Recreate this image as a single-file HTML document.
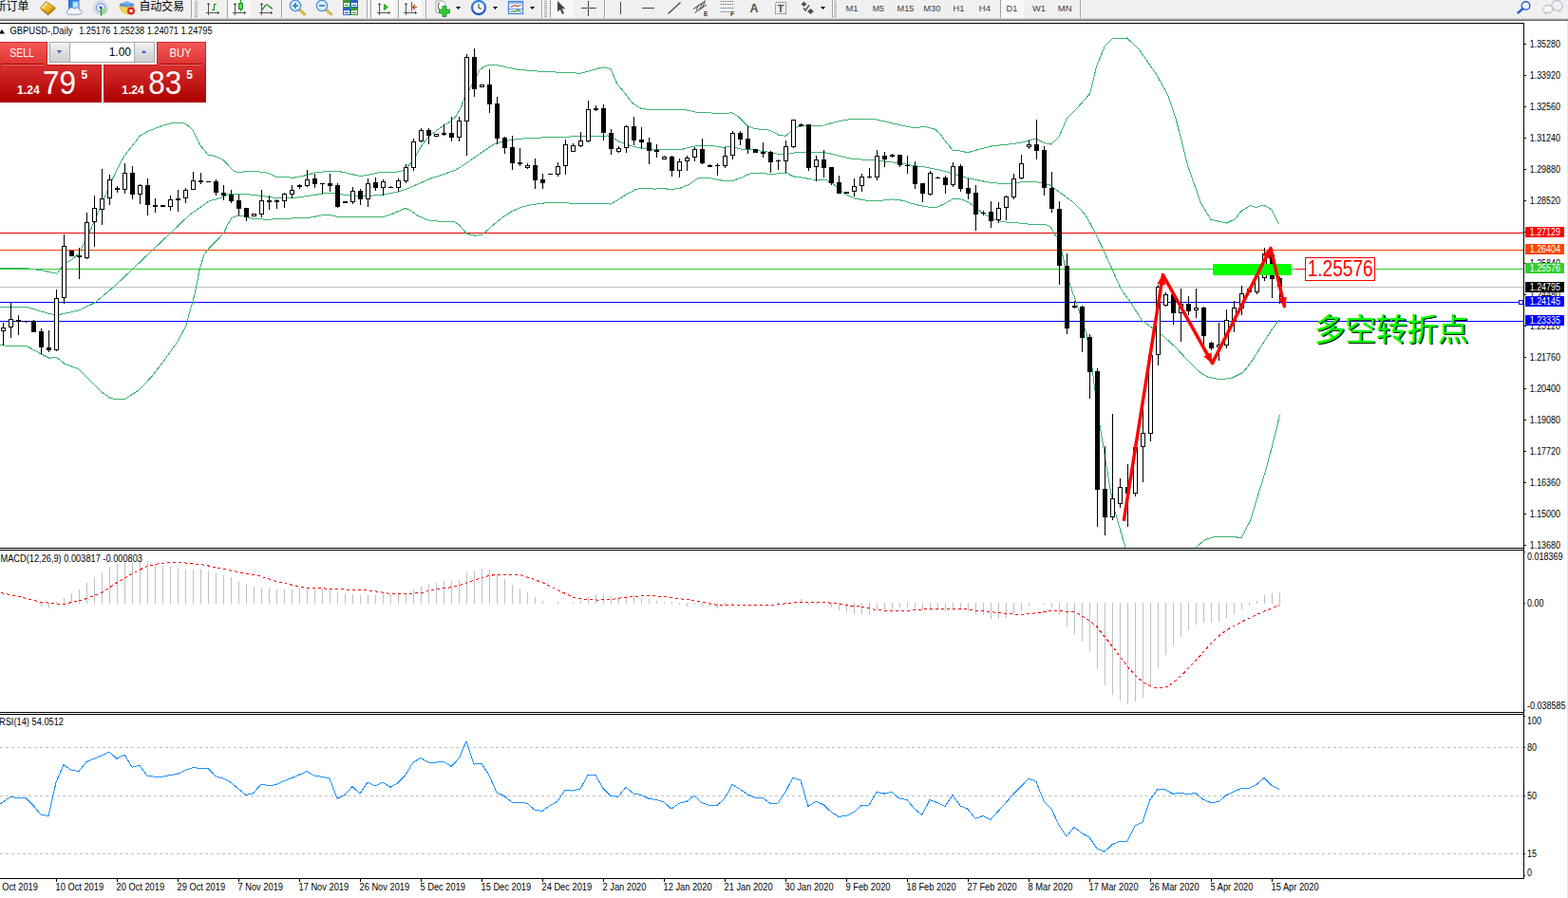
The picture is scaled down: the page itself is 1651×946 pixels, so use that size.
<!DOCTYPE html>
<html><head><meta charset="utf-8"><title>GBPUSD Daily</title>
<style>html,body{margin:0;padding:0;background:#fff;overflow:hidden}body{width:1651px;height:946px;font-family:"Liberation Sans",sans-serif}svg{position:absolute;left:0;top:0}</style>
</head><body>
<svg width="1651" height="946" viewBox="0 0 1651 946" font-family="Liberation Sans, sans-serif" style="display:block">
<defs><linearGradient id="gTab" x1="0" y1="0" x2="0" y2="1"><stop offset="0" stop-color="#f65a58"/><stop offset="1" stop-color="#dc3232"/></linearGradient><linearGradient id="gBig" x1="0" y1="0" x2="0" y2="1"><stop offset="0" stop-color="#d93030"/><stop offset="1" stop-color="#ac0000"/></linearGradient><linearGradient id="gBtn" x1="0" y1="0" x2="0" y2="1"><stop offset="0" stop-color="#f4f4f4"/><stop offset="0.5" stop-color="#dedede"/><stop offset="1" stop-color="#cfcfcf"/></linearGradient><clipPath id="cMain"><rect x="0" y="25" width="1604" height="552"/></clipPath><clipPath id="cMacd"><rect x="0" y="580" width="1604" height="170"/></clipPath></defs>
<rect x="0" y="0" width="1651" height="946" fill="#fff" />
<g shape-rendering="crispEdges">
<rect x="0" y="245" width="1604" height="1" fill="#ff0000" />
<rect x="0" y="263" width="1604" height="1" fill="#ff4500" />
<rect x="0" y="283" width="1604" height="1" fill="#32cd32" />
<rect x="0" y="302" width="1604" height="1" fill="#c0c0c0" />
<rect x="0" y="318" width="1604" height="1" fill="#0000ff" />
<rect x="0" y="338" width="1604" height="1" fill="#0000ff" />
</g>
<g clip-path="url(#cMain)" shape-rendering="crispEdges">
<polyline points="0.0,282.5 30.0,282.8 45.0,285.0 60.0,288.3 67.0,278.0 75.0,274.0 83.0,267.0 91.0,251.5 99.0,233.8 104.0,222.0 110.1,208.2 117.8,190.2 124.0,176.8 130.7,164.4 138.4,154.6 147.7,142.8 155.9,138.2 164.1,135.1 173.4,131.5 182.7,129.4 190.9,129.1 195.5,130.4 203.3,137.1 210.5,152.6 219.2,163.2 226.9,164.4 235.2,168.5 240.0,173.6 246.0,180.2 252.0,182.0 258.0,180.6 270.0,180.6 283.0,182.3 291.0,186.7 310.0,187.1 318.0,185.7 331.0,182.0 345.0,180.4 357.0,180.4 365.0,182.3 379.0,185.5 387.0,184.5 400.0,181.6 421.0,180.9 427.0,178.0 435.0,169.2 443.0,154.7 451.0,144.5 459.0,138.0 467.0,132.2 472.0,129.5 480.0,122.6 485.0,114.4 489.0,102.8 495.0,93.0 500.0,84.2 504.0,74.9 510.0,69.8 515.0,68.4 525.0,69.0 545.0,73.3 570.0,75.3 600.0,76.7 611.0,77.2 620.0,74.9 630.0,72.1 637.0,70.9 643.0,72.6 650.0,88.8 658.0,98.1 666.0,108.6 675.0,114.4 685.0,115.6 704.0,115.6 720.0,115.3 735.0,118.6 760.0,119.3 771.0,118.9 778.0,123.3 787.0,132.7 795.0,135.6 810.0,137.1 820.0,142.2 827.0,143.3 832.0,139.2 840.0,133.4 850.0,132.3 868.0,132.0 880.0,128.3 895.0,125.7 920.0,125.4 930.0,127.6 945.0,131.1 960.0,134.3 975.0,133.8 985.0,136.4 990.0,141.2 995.0,148.3 1003.0,158.1 1010.0,158.9 1019.0,160.7 1030.0,157.6 1045.0,153.6 1060.0,152.3 1075.0,150.4 1085.0,147.5 1091.0,146.2 1099.3,150.5 1107.0,152.1 1115.1,144.0 1123.7,124.2 1135.3,112.6 1147.7,98.6 1154.7,69.5 1163.3,48.6 1171.4,40.9 1186.5,40.0 1199.3,52.1 1217.9,78.8 1229.5,99.8 1238.8,127.7 1250.5,174.2 1264.4,213.7 1274.9,231.2 1291.2,235.1 1300.5,230.7 1307.4,221.9 1316.7,216.7 1322.6,218.4 1330.7,216.0 1338.8,220.7 1346.5,236.3" fill="none" stroke="#3cb371" stroke-width="1" />
<polyline points="0.0,323.4 30.0,324.0 50.0,330.0 60.0,332.0 83.0,327.0 100.0,318.8 120.0,302.0 140.0,283.0 160.0,264.0 180.0,245.0 200.0,226.0 220.0,212.0 232.0,208.5 240.0,204.9 250.0,204.1 262.0,204.9 275.0,206.3 290.0,208.5 300.0,209.2 315.0,207.8 330.0,205.6 345.0,203.1 352.0,203.1 360.0,204.9 372.0,206.0 390.0,206.3 405.0,204.9 420.0,201.7 430.0,198.3 445.0,191.8 455.0,187.4 464.0,184.7 480.0,179.0 490.0,172.6 500.0,165.6 510.0,158.6 520.0,152.1 530.0,148.8 545.0,146.5 560.0,145.3 580.0,144.7 600.0,144.0 620.0,143.5 640.0,143.0 645.0,144.7 651.0,148.8 660.0,152.3 670.0,155.1 685.0,157.0 704.0,157.4 718.0,157.4 730.0,154.2 740.0,153.0 750.0,153.4 760.0,155.2 770.0,154.5 780.0,157.1 795.0,158.1 810.0,160.3 820.0,162.5 830.0,162.2 840.0,160.3 850.0,160.0 870.0,161.0 880.0,163.2 895.0,166.9 910.0,168.3 925.0,168.8 936.0,170.6 945.0,171.3 960.0,174.2 975.0,176.1 990.0,179.2 1003.0,182.7 1015.0,186.6 1027.0,189.3 1040.0,191.9 1055.0,193.5 1065.0,193.5 1075.0,191.9 1090.0,191.3 1105.1,194.7 1113.3,200.9 1129.5,212.6 1140.0,223.0 1145.1,230.0 1153.2,245.5 1162.2,264.1 1170.3,282.2 1180.3,304.3 1190.3,318.4 1202.4,337.5 1214.4,346.5 1224.5,353.5 1238.5,366.6 1250.6,379.6 1263.5,392.2 1272.0,397.3 1285.4,399.8 1297.3,398.1 1309.1,392.2 1319.3,378.7 1327.7,365.2 1336.2,351.6 1346.3,337.3" fill="none" stroke="#3cb371" stroke-width="1" />
<polyline points="0.0,363.3 8.0,364.4 28.0,364.6 42.6,372.6 52.0,377.3 59.3,376.2 68.0,383.3 82.6,388.6 93.3,399.3 106.6,412.6 115.9,419.3 121.3,420.6 131.9,420.3 146.6,410.6 159.9,396.6 173.2,379.3 186.5,360.6 195.9,343.3 200.0,327.7 205.0,310.0 210.0,284.5 215.0,268.0 220.0,261.7 230.0,251.5 236.0,244.8 240.0,236.1 244.0,229.6 250.0,227.1 255.0,227.4 265.0,230.0 280.0,231.3 300.0,230.3 325.0,229.3 340.0,226.7 348.0,226.4 356.0,228.4 375.0,228.6 405.0,228.1 415.0,224.5 427.0,219.4 432.0,221.3 440.0,227.4 450.0,231.8 465.0,233.5 478.0,233.5 483.0,236.5 488.0,242.3 492.0,246.5 500.0,248.1 507.0,247.7 512.0,243.5 520.0,236.5 530.0,228.4 540.0,222.1 550.0,217.9 560.0,215.6 575.0,213.7 590.0,213.5 605.0,214.4 640.0,214.9 643.0,215.1 650.0,210.9 660.0,204.4 670.0,199.3 680.0,198.1 690.0,199.3 696.0,198.1 705.0,199.6 715.0,198.6 725.0,194.5 735.0,187.9 745.0,187.2 760.0,190.1 772.0,190.4 782.0,186.5 790.0,182.9 800.0,182.1 812.0,183.6 828.0,182.1 835.0,185.8 845.0,187.2 855.0,189.0 870.0,189.4 880.0,195.9 890.0,204.7 900.0,209.0 912.0,211.2 925.0,211.6 940.0,209.9 950.0,211.2 965.0,215.7 975.0,217.8 985.0,218.9 995.0,214.4 1003.0,209.6 1010.0,209.1 1020.0,213.1 1027.0,218.4 1035.0,225.0 1045.0,230.2 1055.0,233.7 1070.0,234.7 1085.0,236.3 1100.5,236.3 1106.3,239.3 1110.9,247.4 1113.0,250.0 1117.0,260.6 1120.0,273.8 1124.0,292.3 1128.0,304.2 1131.0,312.3 1136.0,326.4 1144.0,352.5 1150.2,388.7 1152.8,410.8 1158.0,448.0 1163.0,478.4 1170.0,520.5 1174.0,538.6 1184.7,575.8 1185.5,578.0" fill="none" stroke="#3cb371" stroke-width="1" />
<polyline points="1258.5,578.0 1258.8,577.0 1267.9,569.1 1280.1,565.1 1295.8,565.3 1307.2,566.5 1316.7,548.2 1323.7,524.7 1332.4,496.7 1341.2,463.6 1347.6,436.9" fill="none" stroke="#3cb371" stroke-width="1" />
</g>
<g shape-rendering="crispEdges">
<rect x="3" y="340" width="1" height="24" fill="#000" />
<rect x="1" y="345" width="5" height="4" fill="#000" />
<rect x="2" y="346" width="3" height="2" fill="#fff" />
<rect x="11" y="319" width="1" height="37" fill="#000" />
<rect x="9" y="336" width="5" height="9" fill="#000" />
<rect x="10" y="337" width="3" height="7" fill="#fff" />
<rect x="19" y="332" width="1" height="21" fill="#000" />
<rect x="17" y="337" width="5" height="2" fill="#000" />
<rect x="27" y="338" width="1" height="2" fill="#000" />
<rect x="25" y="338" width="5" height="1" fill="#000" />
<rect x="35" y="337" width="1" height="13" fill="#000" />
<rect x="33" y="338" width="5" height="12" fill="#000" />
<rect x="43" y="346" width="1" height="27" fill="#000" />
<rect x="41" y="349" width="5" height="17" fill="#000" />
<rect x="51" y="348" width="1" height="23" fill="#000" />
<rect x="49" y="366" width="5" height="3" fill="#000" />
<rect x="59" y="305" width="1" height="65" fill="#000" />
<rect x="57" y="314" width="5" height="55" fill="#000" />
<rect x="58" y="315" width="3" height="53" fill="#fff" />
<rect x="67" y="247" width="1" height="73" fill="#000" />
<rect x="65" y="259" width="5" height="55" fill="#000" />
<rect x="66" y="260" width="3" height="53" fill="#fff" />
<rect x="75" y="264" width="1" height="6" fill="#000" />
<rect x="73" y="264" width="5" height="6" fill="#000" />
<rect x="83" y="261" width="1" height="33" fill="#000" />
<rect x="81" y="269" width="5" height="2" fill="#000" />
<rect x="91" y="224" width="1" height="49" fill="#000" />
<rect x="89" y="234" width="5" height="38" fill="#000" />
<rect x="90" y="235" width="3" height="36" fill="#fff" />
<rect x="99" y="206" width="1" height="54" fill="#000" />
<rect x="97" y="219" width="5" height="15" fill="#000" />
<rect x="98" y="220" width="3" height="13" fill="#fff" />
<rect x="107" y="178" width="1" height="59" fill="#000" />
<rect x="105" y="209" width="5" height="12" fill="#000" />
<rect x="106" y="210" width="3" height="10" fill="#fff" />
<rect x="115" y="184" width="1" height="32" fill="#000" />
<rect x="113" y="189" width="5" height="20" fill="#000" />
<rect x="114" y="190" width="3" height="18" fill="#fff" />
<rect x="123" y="196" width="1" height="7" fill="#000" />
<rect x="121" y="198" width="5" height="2" fill="#000" />
<rect x="131" y="172" width="1" height="32" fill="#000" />
<rect x="129" y="182" width="5" height="18" fill="#000" />
<rect x="130" y="183" width="3" height="16" fill="#fff" />
<rect x="139" y="175" width="1" height="35" fill="#000" />
<rect x="137" y="182" width="5" height="23" fill="#000" />
<rect x="147" y="194" width="1" height="21" fill="#000" />
<rect x="145" y="195" width="5" height="10" fill="#000" />
<rect x="146" y="196" width="3" height="8" fill="#fff" />
<rect x="155" y="188" width="1" height="39" fill="#000" />
<rect x="153" y="195" width="5" height="21" fill="#000" />
<rect x="163" y="209" width="1" height="15" fill="#000" />
<rect x="161" y="216" width="5" height="2" fill="#000" />
<rect x="171" y="216" width="1" height="2" fill="#000" />
<rect x="169" y="216" width="5" height="2" fill="#000" />
<rect x="179" y="206" width="1" height="16" fill="#000" />
<rect x="177" y="210" width="5" height="8" fill="#000" />
<rect x="178" y="211" width="3" height="6" fill="#fff" />
<rect x="187" y="200" width="1" height="23" fill="#000" />
<rect x="185" y="209" width="5" height="2" fill="#000" />
<rect x="195" y="198" width="1" height="16" fill="#000" />
<rect x="193" y="200" width="5" height="9" fill="#000" />
<rect x="194" y="201" width="3" height="7" fill="#fff" />
<rect x="203" y="181" width="1" height="19" fill="#000" />
<rect x="201" y="190" width="5" height="10" fill="#000" />
<rect x="202" y="191" width="3" height="8" fill="#fff" />
<rect x="211" y="182" width="1" height="12" fill="#000" />
<rect x="209" y="190" width="5" height="2" fill="#000" />
<rect x="219" y="191" width="1" height="1" fill="#000" />
<rect x="217" y="191" width="5" height="1" fill="#000" />
<rect x="227" y="189" width="1" height="17" fill="#000" />
<rect x="225" y="191" width="5" height="12" fill="#000" />
<rect x="235" y="195" width="1" height="16" fill="#000" />
<rect x="233" y="203" width="5" height="3" fill="#000" />
<rect x="243" y="200" width="1" height="14" fill="#000" />
<rect x="241" y="205" width="5" height="7" fill="#000" />
<rect x="251" y="205" width="1" height="22" fill="#000" />
<rect x="249" y="211" width="5" height="9" fill="#000" />
<rect x="259" y="219" width="1" height="14" fill="#000" />
<rect x="257" y="219" width="5" height="10" fill="#000" />
<rect x="267" y="225" width="1" height="3" fill="#000" />
<rect x="265" y="225" width="5" height="3" fill="#000" />
<rect x="266" y="226" width="3" height="1" fill="#fff" />
<rect x="275" y="200" width="1" height="29" fill="#000" />
<rect x="273" y="211" width="5" height="15" fill="#000" />
<rect x="274" y="212" width="3" height="13" fill="#fff" />
<rect x="283" y="206" width="1" height="15" fill="#000" />
<rect x="281" y="211" width="5" height="2" fill="#000" />
<rect x="291" y="210" width="1" height="10" fill="#000" />
<rect x="289" y="211" width="5" height="2" fill="#000" />
<rect x="299" y="203" width="1" height="16" fill="#000" />
<rect x="297" y="204" width="5" height="8" fill="#000" />
<rect x="298" y="205" width="3" height="6" fill="#fff" />
<rect x="307" y="195" width="1" height="14" fill="#000" />
<rect x="305" y="200" width="5" height="5" fill="#000" />
<rect x="306" y="201" width="3" height="3" fill="#fff" />
<rect x="315" y="194" width="1" height="5" fill="#000" />
<rect x="313" y="195" width="5" height="2" fill="#000" />
<rect x="323" y="179" width="1" height="18" fill="#000" />
<rect x="321" y="189" width="5" height="7" fill="#000" />
<rect x="322" y="190" width="3" height="5" fill="#fff" />
<rect x="331" y="183" width="1" height="15" fill="#000" />
<rect x="329" y="188" width="5" height="6" fill="#000" />
<rect x="339" y="193" width="1" height="11" fill="#000" />
<rect x="337" y="193" width="5" height="1" fill="#000" />
<rect x="347" y="183" width="1" height="19" fill="#000" />
<rect x="345" y="193" width="5" height="3" fill="#000" />
<rect x="355" y="193" width="1" height="26" fill="#000" />
<rect x="353" y="195" width="5" height="23" fill="#000" />
<rect x="363" y="212" width="1" height="2" fill="#000" />
<rect x="361" y="212" width="5" height="2" fill="#000" />
<rect x="371" y="197" width="1" height="18" fill="#000" />
<rect x="369" y="201" width="5" height="12" fill="#000" />
<rect x="370" y="202" width="3" height="10" fill="#fff" />
<rect x="379" y="199" width="1" height="17" fill="#000" />
<rect x="377" y="201" width="5" height="9" fill="#000" />
<rect x="387" y="188" width="1" height="30" fill="#000" />
<rect x="385" y="193" width="5" height="17" fill="#000" />
<rect x="386" y="194" width="3" height="15" fill="#fff" />
<rect x="395" y="187" width="1" height="14" fill="#000" />
<rect x="393" y="192" width="5" height="6" fill="#000" />
<rect x="403" y="189" width="1" height="17" fill="#000" />
<rect x="401" y="191" width="5" height="7" fill="#000" />
<rect x="402" y="192" width="3" height="5" fill="#fff" />
<rect x="411" y="196" width="1" height="2" fill="#000" />
<rect x="409" y="197" width="5" height="1" fill="#000" />
<rect x="419" y="188" width="1" height="14" fill="#000" />
<rect x="417" y="190" width="5" height="8" fill="#000" />
<rect x="418" y="191" width="3" height="6" fill="#fff" />
<rect x="427" y="173" width="1" height="20" fill="#000" />
<rect x="425" y="176" width="5" height="15" fill="#000" />
<rect x="426" y="177" width="3" height="13" fill="#fff" />
<rect x="435" y="146" width="1" height="34" fill="#000" />
<rect x="433" y="149" width="5" height="28" fill="#000" />
<rect x="434" y="150" width="3" height="26" fill="#fff" />
<rect x="443" y="135" width="1" height="15" fill="#000" />
<rect x="441" y="137" width="5" height="12" fill="#000" />
<rect x="442" y="138" width="3" height="10" fill="#fff" />
<rect x="451" y="135" width="1" height="17" fill="#000" />
<rect x="449" y="137" width="5" height="6" fill="#000" />
<rect x="459" y="141" width="1" height="3" fill="#000" />
<rect x="457" y="141" width="5" height="3" fill="#000" />
<rect x="458" y="142" width="3" height="1" fill="#fff" />
<rect x="467" y="131" width="1" height="12" fill="#000" />
<rect x="465" y="140" width="5" height="2" fill="#000" />
<rect x="475" y="123" width="1" height="26" fill="#000" />
<rect x="473" y="140" width="5" height="5" fill="#000" />
<rect x="483" y="123" width="1" height="26" fill="#000" />
<rect x="481" y="127" width="5" height="18" fill="#000" />
<rect x="482" y="128" width="3" height="16" fill="#fff" />
<rect x="491" y="57" width="1" height="107" fill="#000" />
<rect x="489" y="60" width="5" height="68" fill="#000" />
<rect x="490" y="61" width="3" height="66" fill="#fff" />
<rect x="499" y="51" width="1" height="51" fill="#000" />
<rect x="497" y="60" width="5" height="34" fill="#000" />
<rect x="507" y="89" width="1" height="3" fill="#000" />
<rect x="505" y="89" width="5" height="3" fill="#000" />
<rect x="506" y="90" width="3" height="1" fill="#fff" />
<rect x="515" y="73" width="1" height="46" fill="#000" />
<rect x="513" y="89" width="5" height="21" fill="#000" />
<rect x="523" y="102" width="1" height="50" fill="#000" />
<rect x="521" y="109" width="5" height="37" fill="#000" />
<rect x="531" y="144" width="1" height="18" fill="#000" />
<rect x="529" y="145" width="5" height="11" fill="#000" />
<rect x="539" y="143" width="1" height="36" fill="#000" />
<rect x="537" y="155" width="5" height="17" fill="#000" />
<rect x="547" y="156" width="1" height="19" fill="#000" />
<rect x="545" y="171" width="5" height="2" fill="#000" />
<rect x="555" y="172" width="1" height="6" fill="#000" />
<rect x="553" y="174" width="5" height="3" fill="#000" />
<rect x="554" y="175" width="3" height="1" fill="#fff" />
<rect x="563" y="167" width="1" height="32" fill="#000" />
<rect x="561" y="174" width="5" height="16" fill="#000" />
<rect x="571" y="183" width="1" height="16" fill="#000" />
<rect x="569" y="189" width="5" height="4" fill="#000" />
<rect x="579" y="183" width="1" height="1" fill="#000" />
<rect x="577" y="183" width="5" height="1" fill="#000" />
<rect x="587" y="171" width="1" height="15" fill="#000" />
<rect x="585" y="175" width="5" height="9" fill="#000" />
<rect x="586" y="176" width="3" height="7" fill="#fff" />
<rect x="595" y="147" width="1" height="37" fill="#000" />
<rect x="593" y="152" width="5" height="23" fill="#000" />
<rect x="594" y="153" width="3" height="21" fill="#fff" />
<rect x="603" y="151" width="1" height="9" fill="#000" />
<rect x="601" y="153" width="5" height="7" fill="#000" />
<rect x="602" y="154" width="3" height="5" fill="#fff" />
<rect x="611" y="139" width="1" height="16" fill="#000" />
<rect x="609" y="148" width="5" height="6" fill="#000" />
<rect x="610" y="149" width="3" height="4" fill="#fff" />
<rect x="619" y="106" width="1" height="44" fill="#000" />
<rect x="617" y="115" width="5" height="34" fill="#000" />
<rect x="618" y="116" width="3" height="32" fill="#fff" />
<rect x="627" y="111" width="1" height="6" fill="#000" />
<rect x="625" y="114" width="5" height="2" fill="#000" />
<rect x="635" y="110" width="1" height="38" fill="#000" />
<rect x="633" y="114" width="5" height="26" fill="#000" />
<rect x="643" y="136" width="1" height="27" fill="#000" />
<rect x="641" y="140" width="5" height="17" fill="#000" />
<rect x="651" y="154" width="1" height="7" fill="#000" />
<rect x="649" y="156" width="5" height="4" fill="#000" />
<rect x="650" y="157" width="3" height="2" fill="#fff" />
<rect x="659" y="132" width="1" height="29" fill="#000" />
<rect x="657" y="133" width="5" height="23" fill="#000" />
<rect x="658" y="134" width="3" height="21" fill="#fff" />
<rect x="667" y="123" width="1" height="30" fill="#000" />
<rect x="665" y="133" width="5" height="15" fill="#000" />
<rect x="675" y="134" width="1" height="23" fill="#000" />
<rect x="673" y="147" width="5" height="3" fill="#000" />
<rect x="683" y="145" width="1" height="28" fill="#000" />
<rect x="681" y="150" width="5" height="9" fill="#000" />
<rect x="691" y="152" width="1" height="14" fill="#000" />
<rect x="689" y="158" width="5" height="2" fill="#000" />
<rect x="699" y="164" width="1" height="4" fill="#000" />
<rect x="697" y="165" width="5" height="3" fill="#000" />
<rect x="698" y="166" width="3" height="1" fill="#fff" />
<rect x="707" y="164" width="1" height="22" fill="#000" />
<rect x="705" y="165" width="5" height="15" fill="#000" />
<rect x="715" y="167" width="1" height="20" fill="#000" />
<rect x="713" y="170" width="5" height="10" fill="#000" />
<rect x="714" y="171" width="3" height="8" fill="#fff" />
<rect x="723" y="164" width="1" height="16" fill="#000" />
<rect x="721" y="166" width="5" height="4" fill="#000" />
<rect x="722" y="167" width="3" height="2" fill="#fff" />
<rect x="731" y="155" width="1" height="15" fill="#000" />
<rect x="729" y="157" width="5" height="9" fill="#000" />
<rect x="730" y="158" width="3" height="7" fill="#fff" />
<rect x="739" y="146" width="1" height="27" fill="#000" />
<rect x="737" y="157" width="5" height="15" fill="#000" />
<rect x="747" y="173" width="1" height="3" fill="#000" />
<rect x="745" y="174" width="5" height="2" fill="#000" />
<rect x="755" y="172" width="1" height="13" fill="#000" />
<rect x="753" y="174" width="5" height="1" fill="#000" />
<rect x="763" y="155" width="1" height="22" fill="#000" />
<rect x="761" y="164" width="5" height="11" fill="#000" />
<rect x="762" y="165" width="3" height="9" fill="#fff" />
<rect x="771" y="138" width="1" height="30" fill="#000" />
<rect x="769" y="140" width="5" height="24" fill="#000" />
<rect x="770" y="141" width="3" height="22" fill="#fff" />
<rect x="779" y="138" width="1" height="15" fill="#000" />
<rect x="777" y="140" width="5" height="7" fill="#000" />
<rect x="787" y="133" width="1" height="29" fill="#000" />
<rect x="785" y="146" width="5" height="11" fill="#000" />
<rect x="795" y="157" width="1" height="4" fill="#000" />
<rect x="793" y="157" width="5" height="4" fill="#000" />
<rect x="803" y="150" width="1" height="16" fill="#000" />
<rect x="801" y="160" width="5" height="2" fill="#000" />
<rect x="811" y="159" width="1" height="23" fill="#000" />
<rect x="809" y="160" width="5" height="11" fill="#000" />
<rect x="819" y="168" width="1" height="11" fill="#000" />
<rect x="817" y="169" width="5" height="1" fill="#000" />
<rect x="827" y="148" width="1" height="34" fill="#000" />
<rect x="825" y="154" width="5" height="16" fill="#000" />
<rect x="826" y="155" width="3" height="14" fill="#fff" />
<rect x="835" y="126" width="1" height="30" fill="#000" />
<rect x="833" y="126" width="5" height="29" fill="#000" />
<rect x="834" y="127" width="3" height="27" fill="#fff" />
<rect x="843" y="130" width="1" height="3" fill="#000" />
<rect x="841" y="131" width="5" height="2" fill="#000" />
<rect x="851" y="131" width="1" height="49" fill="#000" />
<rect x="849" y="131" width="5" height="46" fill="#000" />
<rect x="859" y="164" width="1" height="27" fill="#000" />
<rect x="857" y="168" width="5" height="8" fill="#000" />
<rect x="858" y="169" width="3" height="6" fill="#fff" />
<rect x="867" y="158" width="1" height="29" fill="#000" />
<rect x="865" y="168" width="5" height="9" fill="#000" />
<rect x="875" y="176" width="1" height="19" fill="#000" />
<rect x="873" y="176" width="5" height="17" fill="#000" />
<rect x="883" y="185" width="1" height="19" fill="#000" />
<rect x="881" y="192" width="5" height="12" fill="#000" />
<rect x="891" y="202" width="1" height="2" fill="#000" />
<rect x="889" y="202" width="5" height="2" fill="#000" />
<rect x="899" y="188" width="1" height="19" fill="#000" />
<rect x="897" y="196" width="5" height="6" fill="#000" />
<rect x="898" y="197" width="3" height="4" fill="#fff" />
<rect x="907" y="183" width="1" height="19" fill="#000" />
<rect x="905" y="186" width="5" height="10" fill="#000" />
<rect x="906" y="187" width="3" height="8" fill="#fff" />
<rect x="915" y="177" width="1" height="11" fill="#000" />
<rect x="913" y="186" width="5" height="1" fill="#000" />
<rect x="923" y="158" width="1" height="32" fill="#000" />
<rect x="921" y="164" width="5" height="23" fill="#000" />
<rect x="922" y="165" width="3" height="21" fill="#fff" />
<rect x="931" y="160" width="1" height="16" fill="#000" />
<rect x="929" y="164" width="5" height="4" fill="#000" />
<rect x="939" y="162" width="1" height="4" fill="#000" />
<rect x="937" y="163" width="5" height="2" fill="#000" />
<rect x="947" y="163" width="1" height="13" fill="#000" />
<rect x="945" y="163" width="5" height="11" fill="#000" />
<rect x="955" y="164" width="1" height="19" fill="#000" />
<rect x="953" y="174" width="5" height="1" fill="#000" />
<rect x="963" y="170" width="1" height="29" fill="#000" />
<rect x="961" y="175" width="5" height="19" fill="#000" />
<rect x="971" y="193" width="1" height="20" fill="#000" />
<rect x="969" y="193" width="5" height="11" fill="#000" />
<rect x="979" y="180" width="1" height="26" fill="#000" />
<rect x="977" y="182" width="5" height="23" fill="#000" />
<rect x="978" y="183" width="3" height="21" fill="#fff" />
<rect x="987" y="186" width="1" height="2" fill="#000" />
<rect x="985" y="187" width="5" height="1" fill="#000" />
<rect x="995" y="185" width="1" height="19" fill="#000" />
<rect x="993" y="187" width="5" height="8" fill="#000" />
<rect x="1003" y="171" width="1" height="26" fill="#000" />
<rect x="1001" y="175" width="5" height="20" fill="#000" />
<rect x="1002" y="176" width="3" height="18" fill="#fff" />
<rect x="1011" y="173" width="1" height="29" fill="#000" />
<rect x="1009" y="175" width="5" height="24" fill="#000" />
<rect x="1019" y="188" width="1" height="22" fill="#000" />
<rect x="1017" y="198" width="5" height="6" fill="#000" />
<rect x="1027" y="195" width="1" height="48" fill="#000" />
<rect x="1025" y="203" width="5" height="23" fill="#000" />
<rect x="1035" y="222" width="1" height="5" fill="#000" />
<rect x="1033" y="224" width="5" height="1" fill="#000" />
<rect x="1043" y="212" width="1" height="28" fill="#000" />
<rect x="1041" y="223" width="5" height="10" fill="#000" />
<rect x="1051" y="213" width="1" height="22" fill="#000" />
<rect x="1049" y="219" width="5" height="13" fill="#000" />
<rect x="1050" y="220" width="3" height="11" fill="#fff" />
<rect x="1059" y="206" width="1" height="26" fill="#000" />
<rect x="1057" y="207" width="5" height="12" fill="#000" />
<rect x="1058" y="208" width="3" height="10" fill="#fff" />
<rect x="1067" y="183" width="1" height="27" fill="#000" />
<rect x="1065" y="188" width="5" height="20" fill="#000" />
<rect x="1066" y="189" width="3" height="18" fill="#fff" />
<rect x="1075" y="163" width="1" height="26" fill="#000" />
<rect x="1073" y="172" width="5" height="16" fill="#000" />
<rect x="1074" y="173" width="3" height="14" fill="#fff" />
<rect x="1083" y="148" width="1" height="9" fill="#000" />
<rect x="1081" y="152" width="5" height="3" fill="#000" />
<rect x="1082" y="153" width="3" height="1" fill="#fff" />
<rect x="1091" y="126" width="1" height="42" fill="#000" />
<rect x="1089" y="152" width="5" height="7" fill="#000" />
<rect x="1099" y="154" width="1" height="52" fill="#000" />
<rect x="1097" y="158" width="5" height="40" fill="#000" />
<rect x="1107" y="181" width="1" height="43" fill="#000" />
<rect x="1105" y="198" width="5" height="22" fill="#000" />
<rect x="1115" y="212" width="1" height="88" fill="#000" />
<rect x="1113" y="220" width="5" height="60" fill="#000" />
<rect x="1123" y="267" width="1" height="85" fill="#000" />
<rect x="1121" y="280" width="5" height="66" fill="#000" />
<rect x="1131" y="317" width="1" height="8" fill="#000" />
<rect x="1129" y="322" width="5" height="2" fill="#000" />
<rect x="1139" y="322" width="1" height="49" fill="#000" />
<rect x="1137" y="323" width="5" height="33" fill="#000" />
<rect x="1147" y="352" width="1" height="68" fill="#000" />
<rect x="1145" y="355" width="5" height="37" fill="#000" />
<rect x="1155" y="388" width="1" height="167" fill="#000" />
<rect x="1153" y="391" width="5" height="125" fill="#000" />
<rect x="1163" y="470" width="1" height="94" fill="#000" />
<rect x="1161" y="515" width="5" height="30" fill="#000" />
<rect x="1171" y="436" width="1" height="112" fill="#000" />
<rect x="1169" y="525" width="5" height="20" fill="#000" />
<rect x="1170" y="526" width="3" height="18" fill="#fff" />
<rect x="1179" y="504" width="1" height="31" fill="#000" />
<rect x="1177" y="513" width="5" height="18" fill="#000" />
<rect x="1178" y="514" width="3" height="16" fill="#fff" />
<rect x="1187" y="489" width="1" height="66" fill="#000" />
<rect x="1185" y="513" width="5" height="7" fill="#000" />
<rect x="1195" y="470" width="1" height="53" fill="#000" />
<rect x="1193" y="471" width="5" height="49" fill="#000" />
<rect x="1194" y="472" width="3" height="47" fill="#fff" />
<rect x="1203" y="430" width="1" height="78" fill="#000" />
<rect x="1201" y="456" width="5" height="15" fill="#000" />
<rect x="1202" y="457" width="3" height="13" fill="#fff" />
<rect x="1211" y="372" width="1" height="93" fill="#000" />
<rect x="1209" y="374" width="5" height="83" fill="#000" />
<rect x="1210" y="375" width="3" height="81" fill="#fff" />
<rect x="1219" y="300" width="1" height="85" fill="#000" />
<rect x="1217" y="302" width="5" height="72" fill="#000" />
<rect x="1218" y="303" width="3" height="70" fill="#fff" />
<rect x="1227" y="308" width="1" height="15" fill="#000" />
<rect x="1225" y="310" width="5" height="12" fill="#000" />
<rect x="1226" y="311" width="3" height="10" fill="#fff" />
<rect x="1235" y="310" width="1" height="32" fill="#000" />
<rect x="1233" y="310" width="5" height="20" fill="#000" />
<rect x="1243" y="304" width="1" height="56" fill="#000" />
<rect x="1241" y="320" width="5" height="10" fill="#000" />
<rect x="1242" y="321" width="3" height="8" fill="#fff" />
<rect x="1251" y="312" width="1" height="20" fill="#000" />
<rect x="1249" y="320" width="5" height="8" fill="#000" />
<rect x="1259" y="304" width="1" height="31" fill="#000" />
<rect x="1257" y="324" width="5" height="3" fill="#000" />
<rect x="1258" y="325" width="3" height="1" fill="#fff" />
<rect x="1267" y="323" width="1" height="47" fill="#000" />
<rect x="1265" y="324" width="5" height="30" fill="#000" />
<rect x="1275" y="360" width="1" height="9" fill="#000" />
<rect x="1273" y="361" width="5" height="6" fill="#000" />
<rect x="1283" y="340" width="1" height="40" fill="#000" />
<rect x="1281" y="363" width="5" height="3" fill="#000" />
<rect x="1282" y="364" width="3" height="1" fill="#fff" />
<rect x="1291" y="326" width="1" height="41" fill="#000" />
<rect x="1289" y="337" width="5" height="27" fill="#000" />
<rect x="1290" y="338" width="3" height="25" fill="#fff" />
<rect x="1299" y="317" width="1" height="33" fill="#000" />
<rect x="1297" y="324" width="5" height="14" fill="#000" />
<rect x="1298" y="325" width="3" height="12" fill="#fff" />
<rect x="1307" y="301" width="1" height="31" fill="#000" />
<rect x="1305" y="309" width="5" height="16" fill="#000" />
<rect x="1306" y="310" width="3" height="14" fill="#fff" />
<rect x="1315" y="302" width="1" height="6" fill="#000" />
<rect x="1313" y="304" width="5" height="4" fill="#000" />
<rect x="1323" y="288" width="1" height="22" fill="#000" />
<rect x="1321" y="291" width="5" height="17" fill="#000" />
<rect x="1322" y="292" width="3" height="15" fill="#fff" />
<rect x="1331" y="261" width="1" height="35" fill="#000" />
<rect x="1329" y="267" width="5" height="26" fill="#000" />
<rect x="1330" y="268" width="3" height="24" fill="#fff" />
<rect x="1339" y="265" width="1" height="49" fill="#000" />
<rect x="1337" y="268" width="5" height="26" fill="#000" />
<rect x="1347" y="291" width="1" height="29" fill="#000" />
<rect x="1345" y="293" width="5" height="9" fill="#000" />
</g>
<g shape-rendering="crispEdges" clip-path="url(#cMacd)">
<rect x="43" y="635" width="1" height="4" fill="#c0c0c0" />
<rect x="51" y="635" width="1" height="6" fill="#c0c0c0" />
<rect x="59" y="634" width="1" height="2" fill="#c0c0c0" />
<rect x="67" y="630" width="1" height="6" fill="#c0c0c0" />
<rect x="75" y="625" width="1" height="11" fill="#c0c0c0" />
<rect x="83" y="621" width="1" height="15" fill="#c0c0c0" />
<rect x="91" y="614" width="1" height="22" fill="#c0c0c0" />
<rect x="99" y="608" width="1" height="28" fill="#c0c0c0" />
<rect x="107" y="603" width="1" height="33" fill="#c0c0c0" />
<rect x="115" y="597" width="1" height="39" fill="#c0c0c0" />
<rect x="123" y="594" width="1" height="42" fill="#c0c0c0" />
<rect x="131" y="591" width="1" height="45" fill="#c0c0c0" />
<rect x="139" y="591" width="1" height="45" fill="#c0c0c0" />
<rect x="147" y="591" width="1" height="45" fill="#c0c0c0" />
<rect x="155" y="591" width="1" height="45" fill="#c0c0c0" />
<rect x="163" y="594" width="1" height="42" fill="#c0c0c0" />
<rect x="171" y="596" width="1" height="40" fill="#c0c0c0" />
<rect x="179" y="597" width="1" height="39" fill="#c0c0c0" />
<rect x="187" y="599" width="1" height="37" fill="#c0c0c0" />
<rect x="195" y="600" width="1" height="36" fill="#c0c0c0" />
<rect x="203" y="600" width="1" height="36" fill="#c0c0c0" />
<rect x="211" y="600" width="1" height="36" fill="#c0c0c0" />
<rect x="219" y="601" width="1" height="35" fill="#c0c0c0" />
<rect x="227" y="603" width="1" height="33" fill="#c0c0c0" />
<rect x="235" y="606" width="1" height="30" fill="#c0c0c0" />
<rect x="243" y="608" width="1" height="28" fill="#c0c0c0" />
<rect x="251" y="612" width="1" height="24" fill="#c0c0c0" />
<rect x="259" y="615" width="1" height="21" fill="#c0c0c0" />
<rect x="267" y="618" width="1" height="18" fill="#c0c0c0" />
<rect x="275" y="619" width="1" height="17" fill="#c0c0c0" />
<rect x="283" y="620" width="1" height="16" fill="#c0c0c0" />
<rect x="291" y="621" width="1" height="15" fill="#c0c0c0" />
<rect x="299" y="621" width="1" height="15" fill="#c0c0c0" />
<rect x="307" y="621" width="1" height="15" fill="#c0c0c0" />
<rect x="315" y="620" width="1" height="16" fill="#c0c0c0" />
<rect x="323" y="619" width="1" height="17" fill="#c0c0c0" />
<rect x="331" y="619" width="1" height="17" fill="#c0c0c0" />
<rect x="339" y="620" width="1" height="16" fill="#c0c0c0" />
<rect x="347" y="621" width="1" height="15" fill="#c0c0c0" />
<rect x="355" y="624" width="1" height="12" fill="#c0c0c0" />
<rect x="363" y="625" width="1" height="11" fill="#c0c0c0" />
<rect x="371" y="626" width="1" height="10" fill="#c0c0c0" />
<rect x="379" y="627" width="1" height="9" fill="#c0c0c0" />
<rect x="387" y="627" width="1" height="9" fill="#c0c0c0" />
<rect x="395" y="627" width="1" height="9" fill="#c0c0c0" />
<rect x="403" y="626" width="1" height="10" fill="#c0c0c0" />
<rect x="411" y="626" width="1" height="10" fill="#c0c0c0" />
<rect x="419" y="626" width="1" height="10" fill="#c0c0c0" />
<rect x="427" y="625" width="1" height="11" fill="#c0c0c0" />
<rect x="435" y="621" width="1" height="15" fill="#c0c0c0" />
<rect x="443" y="618" width="1" height="18" fill="#c0c0c0" />
<rect x="451" y="615" width="1" height="21" fill="#c0c0c0" />
<rect x="459" y="614" width="1" height="22" fill="#c0c0c0" />
<rect x="467" y="612" width="1" height="24" fill="#c0c0c0" />
<rect x="475" y="612" width="1" height="24" fill="#c0c0c0" />
<rect x="483" y="611" width="1" height="25" fill="#c0c0c0" />
<rect x="491" y="603" width="1" height="33" fill="#c0c0c0" />
<rect x="499" y="601" width="1" height="35" fill="#c0c0c0" />
<rect x="507" y="599" width="1" height="37" fill="#c0c0c0" />
<rect x="515" y="600" width="1" height="36" fill="#c0c0c0" />
<rect x="523" y="605" width="1" height="31" fill="#c0c0c0" />
<rect x="531" y="610" width="1" height="26" fill="#c0c0c0" />
<rect x="539" y="616" width="1" height="20" fill="#c0c0c0" />
<rect x="547" y="620" width="1" height="16" fill="#c0c0c0" />
<rect x="555" y="624" width="1" height="12" fill="#c0c0c0" />
<rect x="563" y="629" width="1" height="7" fill="#c0c0c0" />
<rect x="571" y="633" width="1" height="3" fill="#c0c0c0" />
<rect x="587" y="634" width="1" height="2" fill="#c0c0c0" />
<rect x="603" y="634" width="1" height="2" fill="#c0c0c0" />
<rect x="611" y="633" width="1" height="3" fill="#c0c0c0" />
<rect x="619" y="629" width="1" height="7" fill="#c0c0c0" />
<rect x="627" y="626" width="1" height="10" fill="#c0c0c0" />
<rect x="635" y="626" width="1" height="10" fill="#c0c0c0" />
<rect x="643" y="628" width="1" height="8" fill="#c0c0c0" />
<rect x="651" y="629" width="1" height="7" fill="#c0c0c0" />
<rect x="659" y="627" width="1" height="9" fill="#c0c0c0" />
<rect x="667" y="627" width="1" height="9" fill="#c0c0c0" />
<rect x="675" y="630" width="1" height="6" fill="#c0c0c0" />
<rect x="683" y="631" width="1" height="5" fill="#c0c0c0" />
<rect x="691" y="633" width="1" height="3" fill="#c0c0c0" />
<rect x="699" y="634" width="1" height="2" fill="#c0c0c0" />
<rect x="707" y="634" width="1" height="2" fill="#c0c0c0" />
<rect x="715" y="635" width="1" height="2" fill="#c0c0c0" />
<rect x="723" y="635" width="1" height="4" fill="#c0c0c0" />
<rect x="731" y="635" width="1" height="2" fill="#c0c0c0" />
<rect x="739" y="635" width="1" height="4" fill="#c0c0c0" />
<rect x="747" y="635" width="1" height="4" fill="#c0c0c0" />
<rect x="755" y="635" width="1" height="6" fill="#c0c0c0" />
<rect x="763" y="635" width="1" height="3" fill="#c0c0c0" />
<rect x="771" y="635" width="1" height="2" fill="#c0c0c0" />
<rect x="819" y="634" width="1" height="2" fill="#c0c0c0" />
<rect x="827" y="634" width="1" height="2" fill="#c0c0c0" />
<rect x="843" y="631" width="1" height="5" fill="#c0c0c0" />
<rect x="851" y="635" width="1" height="2" fill="#c0c0c0" />
<rect x="859" y="635" width="1" height="2" fill="#c0c0c0" />
<rect x="875" y="635" width="1" height="5" fill="#c0c0c0" />
<rect x="883" y="635" width="1" height="8" fill="#c0c0c0" />
<rect x="891" y="635" width="1" height="10" fill="#c0c0c0" />
<rect x="899" y="635" width="1" height="12" fill="#c0c0c0" />
<rect x="907" y="635" width="1" height="12" fill="#c0c0c0" />
<rect x="915" y="635" width="1" height="12" fill="#c0c0c0" />
<rect x="923" y="635" width="1" height="8" fill="#c0c0c0" />
<rect x="931" y="635" width="1" height="7" fill="#c0c0c0" />
<rect x="939" y="635" width="1" height="6" fill="#c0c0c0" />
<rect x="947" y="635" width="1" height="5" fill="#c0c0c0" />
<rect x="955" y="635" width="1" height="5" fill="#c0c0c0" />
<rect x="963" y="635" width="1" height="7" fill="#c0c0c0" />
<rect x="971" y="635" width="1" height="8" fill="#c0c0c0" />
<rect x="979" y="635" width="1" height="8" fill="#c0c0c0" />
<rect x="987" y="635" width="1" height="8" fill="#c0c0c0" />
<rect x="995" y="635" width="1" height="9" fill="#c0c0c0" />
<rect x="1003" y="635" width="1" height="8" fill="#c0c0c0" />
<rect x="1011" y="635" width="1" height="8" fill="#c0c0c0" />
<rect x="1019" y="635" width="1" height="9" fill="#c0c0c0" />
<rect x="1027" y="635" width="1" height="12" fill="#c0c0c0" />
<rect x="1035" y="635" width="1" height="13" fill="#c0c0c0" />
<rect x="1043" y="635" width="1" height="17" fill="#c0c0c0" />
<rect x="1051" y="635" width="1" height="17" fill="#c0c0c0" />
<rect x="1059" y="635" width="1" height="16" fill="#c0c0c0" />
<rect x="1067" y="635" width="1" height="13" fill="#c0c0c0" />
<rect x="1075" y="635" width="1" height="9" fill="#c0c0c0" />
<rect x="1083" y="635" width="1" height="4" fill="#c0c0c0" />
<rect x="1099" y="635" width="1" height="2" fill="#c0c0c0" />
<rect x="1107" y="635" width="1" height="5" fill="#c0c0c0" />
<rect x="1115" y="635" width="1" height="13" fill="#c0c0c0" />
<rect x="1123" y="635" width="1" height="25" fill="#c0c0c0" />
<rect x="1131" y="635" width="1" height="33" fill="#c0c0c0" />
<rect x="1139" y="635" width="1" height="41" fill="#c0c0c0" />
<rect x="1147" y="635" width="1" height="51" fill="#c0c0c0" />
<rect x="1155" y="635" width="1" height="70" fill="#c0c0c0" />
<rect x="1163" y="635" width="1" height="87" fill="#c0c0c0" />
<rect x="1171" y="635" width="1" height="97" fill="#c0c0c0" />
<rect x="1179" y="635" width="1" height="103" fill="#c0c0c0" />
<rect x="1187" y="635" width="1" height="107" fill="#c0c0c0" />
<rect x="1195" y="635" width="1" height="104" fill="#c0c0c0" />
<rect x="1203" y="635" width="1" height="100" fill="#c0c0c0" />
<rect x="1211" y="635" width="1" height="87" fill="#c0c0c0" />
<rect x="1219" y="635" width="1" height="69" fill="#c0c0c0" />
<rect x="1227" y="635" width="1" height="55" fill="#c0c0c0" />
<rect x="1235" y="635" width="1" height="45" fill="#c0c0c0" />
<rect x="1243" y="635" width="1" height="36" fill="#c0c0c0" />
<rect x="1251" y="635" width="1" height="29" fill="#c0c0c0" />
<rect x="1259" y="635" width="1" height="23" fill="#c0c0c0" />
<rect x="1267" y="635" width="1" height="21" fill="#c0c0c0" />
<rect x="1275" y="635" width="1" height="21" fill="#c0c0c0" />
<rect x="1283" y="635" width="1" height="20" fill="#c0c0c0" />
<rect x="1291" y="635" width="1" height="16" fill="#c0c0c0" />
<rect x="1299" y="635" width="1" height="12" fill="#c0c0c0" />
<rect x="1307" y="635" width="1" height="7" fill="#c0c0c0" />
<rect x="1315" y="635" width="1" height="3" fill="#c0c0c0" />
<rect x="1323" y="633" width="1" height="3" fill="#c0c0c0" />
<rect x="1331" y="627" width="1" height="9" fill="#c0c0c0" />
<rect x="1339" y="625" width="1" height="11" fill="#c0c0c0" />
<rect x="1347" y="624" width="1" height="12" fill="#c0c0c0" />
<polyline points="1.0,624.5 15.0,627.6 28.0,630.4 43.0,634.2 58.5,636.0 68.7,636.0 81.4,633.4 91.6,630.4 106.8,624.5 122.1,614.3 137.4,605.4 152.6,597.3 167.9,593.5 183.2,592.2 198.4,593.2 216.2,595.3 234.0,599.1 254.4,603.4 274.7,607.2 292.5,613.1 320.5,618.9 356.1,620.7 389.2,622.0 410.0,625.3 435.4,625.0 445.6,624.0 458.3,620.7 473.6,618.9 486.3,615.6 499.0,611.3 511.8,607.2 521.9,605.4 547.4,605.4 557.5,608.7 572.8,614.3 588.1,622.0 603.3,629.1 613.5,630.9 628.8,632.1 644.0,631.4 659.3,629.1 684.7,627.0 702.5,629.1 722.9,631.6 740.7,634.2 753.4,637.2 776.3,638.0 796.7,637.2 817.0,637.2 822.5,636.4 835.3,634.9 848.0,634.1 876.0,635.1 896.3,638.2 909.0,639.4 921.8,642.5 934.5,643.2 957.4,643.2 972.6,642.0 998.0,641.2 1013.3,641.2 1023.5,642.7 1038.8,644.0 1054.0,645.8 1069.3,647.3 1079.5,647.1 1094.7,645.3 1104.9,643.8 1110.9,643.2 1123.6,644.2 1131.8,645.1 1137.3,647.8 1147.2,653.6 1154.5,660.0 1163.6,671.4 1172.7,682.7 1180.0,692.7 1189.0,704.5 1198.1,714.1 1205.4,719.9 1214.5,724.1 1221.8,725.0 1229.0,723.6 1239.9,715.4 1250.8,704.5 1263.5,690.9 1274.4,678.5 1285.4,668.1 1296.3,660.9 1309.0,654.2 1321.7,648.2 1334.4,642.7 1347.1,637.3" fill="none" stroke="#ff0000" stroke-width="1" stroke-dasharray="3 3"/>
</g>
<g shape-rendering="crispEdges">
<line x1="0" y1="787.5" x2="1604" y2="787.5" stroke="#c0c0c0" stroke-width="1" stroke-dasharray="3 3"/>
<line x1="0" y1="838.5" x2="1604" y2="838.5" stroke="#c0c0c0" stroke-width="1" stroke-dasharray="3 3"/>
<line x1="0" y1="899.5" x2="1604" y2="899.5" stroke="#c0c0c0" stroke-width="1" stroke-dasharray="3 3"/>
</g>
<polyline points="-5.0,850.0 3.0,845.0 11.0,839.4 19.0,840.5 27.0,840.5 35.0,848.4 43.0,858.3 51.0,859.5 59.0,824.2 67.0,805.6 75.0,811.2 83.0,812.5 91.0,802.6 99.0,799.3 107.0,795.9 115.0,792.1 123.0,799.3 131.0,794.9 139.0,808.2 147.0,806.4 155.0,817.1 163.0,818.3 171.0,818.3 179.0,816.6 187.0,815.3 195.0,811.5 203.0,808.7 211.0,809.4 219.0,809.4 227.0,817.8 235.0,820.1 243.0,824.2 251.0,831.1 259.0,837.4 267.0,835.4 275.0,826.0 283.0,827.7 291.0,826.5 299.0,822.7 307.0,819.6 315.0,816.3 323.0,812.5 331.0,817.1 339.0,818.3 347.0,820.1 355.0,841.2 363.0,837.4 371.0,828.5 379.0,836.1 387.0,824.2 395.0,828.0 403.0,824.2 411.0,829.3 419.0,824.7 427.0,816.3 435.0,803.1 443.0,798.5 451.0,803.1 459.0,803.1 467.0,802.3 475.0,807.4 483.0,799.3 491.0,780.9 499.0,805.1 507.0,804.3 515.0,816.6 523.0,834.9 531.0,838.7 539.0,845.0 547.0,845.0 555.0,846.3 563.0,853.2 571.0,854.5 579.0,848.4 587.0,844.3 595.0,832.3 603.0,833.1 611.0,831.1 619.0,816.3 627.0,816.3 635.0,830.5 643.0,838.7 651.0,839.2 659.0,829.3 667.0,836.1 675.0,837.4 683.0,841.2 691.0,842.5 699.0,845.0 707.0,852.2 715.0,846.3 723.0,844.3 731.0,838.2 739.0,845.8 747.0,848.4 755.0,848.4 763.0,841.2 771.0,826.5 779.0,831.1 787.0,836.9 795.0,840.5 803.0,840.5 811.0,846.3 819.0,846.3 827.0,834.2 835.0,819.1 843.0,822.1 851.0,849.4 859.0,844.3 867.0,847.6 875.0,855.2 883.0,860.3 891.0,859.5 899.0,855.7 907.0,848.4 915.0,848.4 923.0,834.4 931.0,836.1 939.0,834.4 947.0,841.2 955.0,842.5 963.0,852.2 971.0,858.3 979.0,842.5 987.0,845.6 995.0,849.4 1003.0,837.4 1011.0,848.9 1019.0,852.2 1027.0,862.3 1035.0,859.5 1043.0,863.4 1051.0,854.5 1059.0,845.8 1067.0,836.6 1075.0,828.5 1083.0,820.1 1091.0,823.4 1099.0,843.8 1107.0,851.9 1115.0,869.2 1123.0,881.2 1131.0,871.2 1139.0,877.6 1147.0,881.9 1155.0,893.9 1163.0,897.2 1171.0,889.6 1179.0,886.3 1187.0,886.3 1195.0,870.0 1203.0,865.9 1211.0,842.5 1219.0,831.1 1227.0,832.0 1235.0,836.3 1243.0,835.6 1251.0,836.5 1259.0,835.6 1267.0,842.3 1275.0,845.6 1283.0,844.7 1291.0,837.7 1299.0,834.1 1307.0,830.4 1315.0,830.4 1323.0,826.5 1331.0,819.5 1339.0,827.4 1347.0,831.7" fill="none" stroke="#1e90ff" stroke-width="1" shape-rendering="crispEdges"/>
<g shape-rendering="crispEdges">
<rect x="0" y="24" width="1605" height="1" fill="#000" />
<rect x="1604" y="24" width="1" height="902" fill="#000" />
<rect x="0" y="925" width="1605" height="1" fill="#000" />
<rect x="0" y="577" width="1605" height="1" fill="#000" />
<rect x="0" y="579" width="1605" height="1" fill="#000" />
<rect x="0" y="750" width="1605" height="1" fill="#000" />
<rect x="0" y="752" width="1605" height="1" fill="#000" />
<rect x="0" y="578" width="1604" height="1" fill="#fff" />
<rect x="0" y="751" width="1604" height="1" fill="#fff" />
<rect x="1605" y="46" width="2" height="1" fill="#000" />
<rect x="1605" y="79" width="2" height="1" fill="#000" />
<rect x="1605" y="112" width="2" height="1" fill="#000" />
<rect x="1605" y="145" width="2" height="1" fill="#000" />
<rect x="1605" y="178" width="2" height="1" fill="#000" />
<rect x="1605" y="211" width="2" height="1" fill="#000" />
<rect x="1605" y="244" width="2" height="1" fill="#000" />
<rect x="1605" y="277" width="2" height="1" fill="#000" />
<rect x="1605" y="310" width="2" height="1" fill="#000" />
<rect x="1605" y="343" width="2" height="1" fill="#000" />
<rect x="1605" y="376" width="2" height="1" fill="#000" />
<rect x="1605" y="409" width="2" height="1" fill="#000" />
<rect x="1605" y="442" width="2" height="1" fill="#000" />
<rect x="1605" y="475" width="2" height="1" fill="#000" />
<rect x="1605" y="508" width="2" height="1" fill="#000" />
<rect x="1605" y="541" width="2" height="1" fill="#000" />
<rect x="1605" y="574" width="2" height="1" fill="#000" />
</g>
<text x="1610.7" y="50" font-size="10" fill="#000" text-anchor="start" textLength="32.3" lengthAdjust="spacingAndGlyphs">1.35280</text>
<text x="1610.7" y="83" font-size="10" fill="#000" text-anchor="start" textLength="32.3" lengthAdjust="spacingAndGlyphs">1.33920</text>
<text x="1610.7" y="116" font-size="10" fill="#000" text-anchor="start" textLength="32.3" lengthAdjust="spacingAndGlyphs">1.32560</text>
<text x="1610.7" y="149" font-size="10" fill="#000" text-anchor="start" textLength="32.3" lengthAdjust="spacingAndGlyphs">1.31240</text>
<text x="1610.7" y="182" font-size="10" fill="#000" text-anchor="start" textLength="32.3" lengthAdjust="spacingAndGlyphs">1.29880</text>
<text x="1610.7" y="215" font-size="10" fill="#000" text-anchor="start" textLength="32.3" lengthAdjust="spacingAndGlyphs">1.28520</text>
<text x="1610.7" y="248" font-size="10" fill="#000" text-anchor="start" textLength="32.3" lengthAdjust="spacingAndGlyphs">1.27200</text>
<text x="1610.7" y="281" font-size="10" fill="#000" text-anchor="start" textLength="32.3" lengthAdjust="spacingAndGlyphs">1.25840</text>
<text x="1610.7" y="314" font-size="10" fill="#000" text-anchor="start" textLength="32.3" lengthAdjust="spacingAndGlyphs">1.24480</text>
<text x="1610.7" y="347" font-size="10" fill="#000" text-anchor="start" textLength="32.3" lengthAdjust="spacingAndGlyphs">1.23120</text>
<text x="1610.7" y="380" font-size="10" fill="#000" text-anchor="start" textLength="32.3" lengthAdjust="spacingAndGlyphs">1.21760</text>
<text x="1610.7" y="413" font-size="10" fill="#000" text-anchor="start" textLength="32.3" lengthAdjust="spacingAndGlyphs">1.20400</text>
<text x="1610.7" y="446" font-size="10" fill="#000" text-anchor="start" textLength="32.3" lengthAdjust="spacingAndGlyphs">1.19080</text>
<text x="1610.7" y="479" font-size="10" fill="#000" text-anchor="start" textLength="32.3" lengthAdjust="spacingAndGlyphs">1.17720</text>
<text x="1610.7" y="512" font-size="10" fill="#000" text-anchor="start" textLength="32.3" lengthAdjust="spacingAndGlyphs">1.16360</text>
<text x="1610.7" y="545" font-size="10" fill="#000" text-anchor="start" textLength="32.3" lengthAdjust="spacingAndGlyphs">1.15000</text>
<text x="1610.7" y="578" font-size="10" fill="#000" text-anchor="start" textLength="32.3" lengthAdjust="spacingAndGlyphs">1.13680</text>
<g shape-rendering="crispEdges">
<rect x="1605" y="581" width="1" height="1" fill="#000" />
<rect x="1605" y="635" width="1" height="1" fill="#000" />
<rect x="1605" y="748" width="1" height="1" fill="#000" />
<rect x="1605" y="754" width="1" height="1" fill="#000" />
<rect x="1605" y="787" width="1" height="1" fill="#000" />
<rect x="1605" y="838" width="1" height="1" fill="#000" />
<rect x="1605" y="899" width="1" height="1" fill="#000" />
<rect x="1605" y="922" width="1" height="1" fill="#000" />
</g>
<text x="1608" y="590" font-size="10" fill="#000" text-anchor="start" textLength="37.6" lengthAdjust="spacingAndGlyphs">0.018369</text>
<text transform="translate(1608 639) scale(0.9 1)" font-size="10" fill="#000" text-anchor="start" >0.00</text>
<text x="1608" y="747" font-size="10" fill="#000" text-anchor="start" textLength="40.5" lengthAdjust="spacingAndGlyphs">-0.038585</text>
<text transform="translate(1608 762.5) scale(0.9 1)" font-size="10" fill="#000" text-anchor="start" >100</text>
<text transform="translate(1608 791.0) scale(0.9 1)" font-size="10" fill="#000" text-anchor="start" >80</text>
<text transform="translate(1608 842.0) scale(0.9 1)" font-size="10" fill="#000" text-anchor="start" >50</text>
<text transform="translate(1608 903.0) scale(0.9 1)" font-size="10" fill="#000" text-anchor="start" >15</text>
<text transform="translate(1608 922.5) scale(0.9 1)" font-size="10" fill="#000" text-anchor="start" >0</text>
<g shape-rendering="crispEdges">
<rect x="1606" y="239" width="41" height="11" fill="#ff0000" />
<rect x="1606" y="257" width="41" height="11" fill="#ff4500" />
<rect x="1606" y="277" width="41" height="11" fill="#32cd32" />
<rect x="1606" y="297" width="41" height="11" fill="#000000" />
<rect x="1606" y="312" width="41" height="11" fill="#0000ff" />
<rect x="1606" y="332" width="41" height="11" fill="#0000ff" />
</g>
<text x="1610.7" y="248" font-size="10" fill="#fff" text-anchor="start" textLength="32.3" lengthAdjust="spacingAndGlyphs">1.27129</text>
<text x="1610.7" y="266" font-size="10" fill="#fff" text-anchor="start" textLength="32.3" lengthAdjust="spacingAndGlyphs">1.26404</text>
<text x="1610.7" y="286" font-size="10" fill="#fff" text-anchor="start" textLength="32.3" lengthAdjust="spacingAndGlyphs">1.25576</text>
<text x="1610.7" y="306" font-size="10" fill="#fff" text-anchor="start" textLength="32.3" lengthAdjust="spacingAndGlyphs">1.24795</text>
<text x="1610.7" y="321" font-size="10" fill="#fff" text-anchor="start" textLength="32.3" lengthAdjust="spacingAndGlyphs">1.24145</text>
<text x="1610.7" y="341" font-size="10" fill="#fff" text-anchor="start" textLength="32.3" lengthAdjust="spacingAndGlyphs">1.23335</text>
<rect x="1599.5" y="316.5" width="4" height="4" fill="#fff" stroke="#0000ff" stroke-width="1" shape-rendering="crispEdges"/>
<g shape-rendering="crispEdges">
<rect x="59" y="926" width="1" height="3" fill="#000" />
<rect x="123" y="926" width="1" height="3" fill="#000" />
<rect x="187" y="926" width="1" height="3" fill="#000" />
<rect x="251" y="926" width="1" height="3" fill="#000" />
<rect x="315" y="926" width="1" height="3" fill="#000" />
<rect x="379" y="926" width="1" height="3" fill="#000" />
<rect x="443" y="926" width="1" height="3" fill="#000" />
<rect x="507" y="926" width="1" height="3" fill="#000" />
<rect x="571" y="926" width="1" height="3" fill="#000" />
<rect x="635" y="926" width="1" height="3" fill="#000" />
<rect x="699" y="926" width="1" height="3" fill="#000" />
<rect x="763" y="926" width="1" height="3" fill="#000" />
<rect x="827" y="926" width="1" height="3" fill="#000" />
<rect x="891" y="926" width="1" height="3" fill="#000" />
<rect x="955" y="926" width="1" height="3" fill="#000" />
<rect x="1019" y="926" width="1" height="3" fill="#000" />
<rect x="1083" y="926" width="1" height="3" fill="#000" />
<rect x="1147" y="926" width="1" height="3" fill="#000" />
<rect x="1211" y="926" width="1" height="3" fill="#000" />
<rect x="1275" y="926" width="1" height="3" fill="#000" />
<rect x="1339" y="926" width="1" height="3" fill="#000" />
</g>
<text transform="translate(-5.5 938) scale(0.93 1)" font-size="10" fill="#000" text-anchor="start" >1 Oct 2019</text>
<text transform="translate(58.5 938) scale(0.93 1)" font-size="10" fill="#000" text-anchor="start" >10 Oct 2019</text>
<text transform="translate(122.5 938) scale(0.93 1)" font-size="10" fill="#000" text-anchor="start" >20 Oct 2019</text>
<text transform="translate(186.5 938) scale(0.93 1)" font-size="10" fill="#000" text-anchor="start" >29 Oct 2019</text>
<text transform="translate(250.5 938) scale(0.93 1)" font-size="10" fill="#000" text-anchor="start" >7 Nov 2019</text>
<text transform="translate(314.5 938) scale(0.93 1)" font-size="10" fill="#000" text-anchor="start" >17 Nov 2019</text>
<text transform="translate(378.5 938) scale(0.93 1)" font-size="10" fill="#000" text-anchor="start" >26 Nov 2019</text>
<text transform="translate(442.5 938) scale(0.93 1)" font-size="10" fill="#000" text-anchor="start" >5 Dec 2019</text>
<text transform="translate(506.5 938) scale(0.93 1)" font-size="10" fill="#000" text-anchor="start" >15 Dec 2019</text>
<text transform="translate(570.5 938) scale(0.93 1)" font-size="10" fill="#000" text-anchor="start" >24 Dec 2019</text>
<text transform="translate(634.5 938) scale(0.93 1)" font-size="10" fill="#000" text-anchor="start" >2 Jan 2020</text>
<text transform="translate(698.5 938) scale(0.93 1)" font-size="10" fill="#000" text-anchor="start" >12 Jan 2020</text>
<text transform="translate(762.5 938) scale(0.93 1)" font-size="10" fill="#000" text-anchor="start" >21 Jan 2020</text>
<text transform="translate(826.5 938) scale(0.93 1)" font-size="10" fill="#000" text-anchor="start" >30 Jan 2020</text>
<text transform="translate(890.5 938) scale(0.93 1)" font-size="10" fill="#000" text-anchor="start" >9 Feb 2020</text>
<text transform="translate(954.5 938) scale(0.93 1)" font-size="10" fill="#000" text-anchor="start" >18 Feb 2020</text>
<text transform="translate(1018.5 938) scale(0.93 1)" font-size="10" fill="#000" text-anchor="start" >27 Feb 2020</text>
<text transform="translate(1082.5 938) scale(0.93 1)" font-size="10" fill="#000" text-anchor="start" >8 Mar 2020</text>
<text transform="translate(1146.5 938) scale(0.93 1)" font-size="10" fill="#000" text-anchor="start" >17 Mar 2020</text>
<text transform="translate(1210.5 938) scale(0.93 1)" font-size="10" fill="#000" text-anchor="start" >26 Mar 2020</text>
<text transform="translate(1274.5 938) scale(0.93 1)" font-size="10" fill="#000" text-anchor="start" >5 Apr 2020</text>
<text transform="translate(1338.5 938) scale(0.93 1)" font-size="10" fill="#000" text-anchor="start" >15 Apr 2020</text>
<text x="10.4" y="36" font-size="10" fill="#000" text-anchor="start" textLength="66" lengthAdjust="spacingAndGlyphs">GBPUSD-,Daily</text>
<text x="83.2" y="36" font-size="10" fill="#000" text-anchor="start" textLength="140.4" lengthAdjust="spacingAndGlyphs">1.25176 1.25238 1.24071 1.24795</text>
<path d="M-1 35.5 L2 31 L5 35.5 Z" fill="#000"/>
<text x="0.5" y="592" font-size="10" fill="#000" text-anchor="start" textLength="149.5" lengthAdjust="spacingAndGlyphs">MACD(12,26,9) 0.003817 -0.000803</text>
<text x="-1" y="764" font-size="10" fill="#000" text-anchor="start" textLength="68" lengthAdjust="spacingAndGlyphs">RSI(14) 54.0512</text>
<rect x="1277" y="278" width="83" height="12" fill="#00ff00" shape-rendering="crispEdges"/>
<polyline points="1183.3,548.7 1224.5,289.5 1276.5,382.6 1337.9,261.5 1352.8,324.0" fill="none" stroke="#ff0000" stroke-width="3.5" stroke-linejoin="round"/>
<path d="M1224.6 289.0 L1227.4 300.6 L1218.3 299.1 Z" fill="#ff0000"/>
<path d="M1276.7 383.0 L1267.4 375.7 L1275.4 371.2 Z" fill="#ff0000"/>
<path d="M1338.1 261.1 L1337.3 272.9 L1329.0 268.8 Z" fill="#ff0000"/>
<path d="M1352.9 324.5 L1345.9 314.9 L1354.8 312.7 Z" fill="#ff0000"/>
<g shape-rendering="crispEdges">
<rect x="1364" y="283" width="10" height="1" fill="#ff0000" />
<rect x="1374.5" y="271.5" width="73" height="24" fill="#fff" stroke="#ff0000" stroke-width="1"/>
</g>
<text x="1376.7" y="291.3" font-size="23.5" fill="#ff0000" text-anchor="start" textLength="69" lengthAdjust="spacingAndGlyphs">1.25576</text>
<text x="1385" y="359.9" font-size="33" fill="#002400" text-anchor="start" font-family="&quot;Liberation Sans&quot;, &quot;Noto Sans CJK SC&quot;, sans-serif" textLength="163" lengthAdjust="spacing">多空转折点</text>
<text x="1383.6" y="358.5" font-size="33" fill="#00ff00" text-anchor="start" font-family="&quot;Liberation Sans&quot;, &quot;Noto Sans CJK SC&quot;, sans-serif" textLength="163" lengthAdjust="spacing">多空转折点</text>
<g shape-rendering="crispEdges">
<rect x="0" y="44" width="218" height="64" fill="#fff" />
<rect x="0" y="44" width="50" height="25" fill="url(#gTab)" />
<rect x="0" y="68" width="107" height="40" fill="url(#gBig)" />
<rect x="165" y="44" width="52" height="25" fill="url(#gTab)" />
<rect x="109" y="68" width="108" height="40" fill="url(#gBig)" />
<rect x="0" y="44" width="50" height="1" fill="#b80000" fill-opacity="0.55"/>
<rect x="49" y="44" width="1" height="24" fill="#b80000" fill-opacity="0.55"/>
<rect x="165" y="44" width="52" height="1" fill="#b80000" fill-opacity="0.55"/>
<rect x="165" y="44" width="1" height="24" fill="#b80000" fill-opacity="0.55"/>
<rect x="216" y="44" width="1" height="64" fill="#b80000" fill-opacity="0.55"/>
<rect x="0" y="68" width="107" height="1" fill="#b80000" fill-opacity="0.55"/>
<rect x="109" y="68" width="108" height="1" fill="#b80000" fill-opacity="0.55"/>
<rect x="106" y="68" width="1" height="40" fill="#b80000" fill-opacity="0.55"/>
<rect x="109" y="68" width="1" height="40" fill="#b80000" fill-opacity="0.55"/>
<rect x="0" y="107" width="107" height="1" fill="#b80000" fill-opacity="0.55"/>
<rect x="109" y="107" width="108" height="1" fill="#b80000" fill-opacity="0.55"/>
<rect x="1" y="68" width="48" height="1" fill="#dc3232" />
<rect x="166" y="68" width="50" height="1" fill="#dc3232" />
<rect x="2" y="67" width="44" height="1" fill="#a00000" />
<rect x="2" y="68" width="44" height="1" fill="#ef6a6a" />
<rect x="169" y="67" width="44" height="1" fill="#a00000" />
<rect x="169" y="68" width="44" height="1" fill="#ef6a6a" />
<rect x="52" y="44" width="111" height="22" fill="#a3aab3" />
<rect x="53" y="45" width="109" height="20" fill="#fff" />
<rect x="53" y="45" width="20" height="20" fill="url(#gBtn)" />
<rect x="73" y="45" width="1" height="20" fill="#a3aab3" />
<rect x="142" y="45" width="20" height="20" fill="url(#gBtn)" />
<rect x="141" y="45" width="1" height="20" fill="#a3aab3" />
</g>
<path d="M59.8 53 L65.2 53 L62.5 56.2 Z" fill="#4460c8"/>
<path d="M148.8 56 L154.2 56 L151.5 52.8 Z" fill="#4460c8"/>
<text x="10.3" y="60" font-size="12" fill="#fff" text-anchor="start" textLength="25.5" lengthAdjust="spacingAndGlyphs">SELL</text>
<text x="178.4" y="60" font-size="12" fill="#fff" text-anchor="start" textLength="23.3" lengthAdjust="spacingAndGlyphs">BUY</text>
<text x="138" y="58.7" font-size="12" fill="#000" text-anchor="end" >1.00</text>
<text x="18.1" y="99" font-size="12" fill="#fff" text-anchor="start" font-weight="bold" textLength="23.5" lengthAdjust="spacingAndGlyphs">1.24</text>
<text x="44.900000000000006" y="99" font-size="35" fill="#fff" text-anchor="start" textLength="35" lengthAdjust="spacingAndGlyphs">79</text>
<text x="85.6" y="82.8" font-size="12" fill="#fff" text-anchor="start" font-weight="bold">5</text>
<text x="128.2" y="99" font-size="12" fill="#fff" text-anchor="start" font-weight="bold" textLength="23.5" lengthAdjust="spacingAndGlyphs">1.24</text>
<text x="156.29999999999998" y="99" font-size="35" fill="#fff" text-anchor="start" textLength="35" lengthAdjust="spacingAndGlyphs">83</text>
<text x="196.3" y="82.8" font-size="12" fill="#fff" text-anchor="start" font-weight="bold">5</text>
<g shape-rendering="crispEdges">
<rect x="0" y="0" width="1651" height="19" fill="#f0f0f0" />
<rect x="0" y="19" width="1651" height="1" fill="#d4d4d4" />
<rect x="0" y="20" width="1651" height="1" fill="#a0a0a0" />
<rect x="0" y="21" width="1651" height="1" fill="#696969" />
<rect x="0" y="22" width="1651" height="2" fill="#fff" />
<rect x="1650" y="22" width="1" height="924" fill="#e8e8e8" />
<rect x="240" y="0" width="24" height="19" fill="#f8f8f8" />
<rect x="239" y="0" width="1" height="19" fill="#a0a0a0" />
<rect x="391" y="0" width="25" height="19" fill="#f8f8f8" />
<rect x="390" y="0" width="1" height="19" fill="#a0a0a0" />
<rect x="420" y="0" width="24" height="19" fill="#f8f8f8" />
<rect x="419" y="0" width="1" height="19" fill="#a0a0a0" />
<rect x="580" y="0" width="24" height="19" fill="#f8f8f8" />
<rect x="579" y="0" width="1" height="19" fill="#a0a0a0" />
<rect x="1054" y="0" width="24" height="19" fill="#f8f8f8" />
<rect x="1053" y="0" width="1" height="19" fill="#a0a0a0" />
<rect x="201" y="0" width="1" height="19" fill="#a0a0a0" />
<rect x="202" y="0" width="1" height="19" fill="#fff" />
<rect x="296" y="0" width="1" height="19" fill="#a0a0a0" />
<rect x="297" y="0" width="1" height="19" fill="#fff" />
<rect x="386" y="0" width="1" height="19" fill="#a0a0a0" />
<rect x="387" y="0" width="1" height="19" fill="#fff" />
<rect x="448" y="0" width="1" height="19" fill="#a0a0a0" />
<rect x="449" y="0" width="1" height="19" fill="#fff" />
<rect x="570" y="0" width="1" height="19" fill="#a0a0a0" />
<rect x="571" y="0" width="1" height="19" fill="#fff" />
<rect x="636" y="0" width="1" height="19" fill="#a0a0a0" />
<rect x="637" y="0" width="1" height="19" fill="#fff" />
<rect x="876" y="0" width="1" height="19" fill="#a0a0a0" />
<rect x="877" y="0" width="1" height="19" fill="#fff" />
<rect x="1137" y="0" width="1" height="19" fill="#a0a0a0" />
<rect x="1138" y="0" width="1" height="19" fill="#fff" />
<rect x="205" y="1" width="3" height="1" fill="#a8a8a8" />
<rect x="205" y="3" width="3" height="1" fill="#a8a8a8" />
<rect x="205" y="5" width="3" height="1" fill="#a8a8a8" />
<rect x="205" y="7" width="3" height="1" fill="#a8a8a8" />
<rect x="205" y="9" width="3" height="1" fill="#a8a8a8" />
<rect x="205" y="11" width="3" height="1" fill="#a8a8a8" />
<rect x="205" y="13" width="3" height="1" fill="#a8a8a8" />
<rect x="205" y="15" width="3" height="1" fill="#a8a8a8" />
<rect x="205" y="17" width="3" height="1" fill="#a8a8a8" />
<rect x="573" y="1" width="3" height="1" fill="#a8a8a8" />
<rect x="573" y="3" width="3" height="1" fill="#a8a8a8" />
<rect x="573" y="5" width="3" height="1" fill="#a8a8a8" />
<rect x="573" y="7" width="3" height="1" fill="#a8a8a8" />
<rect x="573" y="9" width="3" height="1" fill="#a8a8a8" />
<rect x="573" y="11" width="3" height="1" fill="#a8a8a8" />
<rect x="573" y="13" width="3" height="1" fill="#a8a8a8" />
<rect x="573" y="15" width="3" height="1" fill="#a8a8a8" />
<rect x="573" y="17" width="3" height="1" fill="#a8a8a8" />
<rect x="878" y="1" width="3" height="1" fill="#a8a8a8" />
<rect x="878" y="3" width="3" height="1" fill="#a8a8a8" />
<rect x="878" y="5" width="3" height="1" fill="#a8a8a8" />
<rect x="878" y="7" width="3" height="1" fill="#a8a8a8" />
<rect x="878" y="9" width="3" height="1" fill="#a8a8a8" />
<rect x="878" y="11" width="3" height="1" fill="#a8a8a8" />
<rect x="878" y="13" width="3" height="1" fill="#a8a8a8" />
<rect x="878" y="15" width="3" height="1" fill="#a8a8a8" />
<rect x="878" y="17" width="3" height="1" fill="#a8a8a8" />
<rect x="219" y="3" width="1" height="13" fill="#555" />
<rect x="217" y="13" width="14" height="1" fill="#555" />
<rect x="218" y="4" width="3" height="1" fill="#555" />
<rect x="229" y="12" width="1" height="3" fill="#555" />
<rect x="247" y="3" width="1" height="13" fill="#555" />
<rect x="245" y="13" width="14" height="1" fill="#555" />
<rect x="246" y="4" width="3" height="1" fill="#555" />
<rect x="257" y="12" width="1" height="3" fill="#555" />
<rect x="275" y="3" width="1" height="13" fill="#555" />
<rect x="273" y="13" width="14" height="1" fill="#555" />
<rect x="274" y="4" width="3" height="1" fill="#555" />
<rect x="285" y="12" width="1" height="3" fill="#555" />
<rect x="399" y="3" width="1" height="13" fill="#555" />
<rect x="397" y="13" width="14" height="1" fill="#555" />
<rect x="398" y="4" width="3" height="1" fill="#555" />
<rect x="409" y="12" width="1" height="3" fill="#555" />
<rect x="427" y="3" width="1" height="13" fill="#555" />
<rect x="425" y="13" width="14" height="1" fill="#555" />
<rect x="426" y="4" width="3" height="1" fill="#555" />
<rect x="437" y="12" width="1" height="3" fill="#555" />
<rect x="225" y="4" width="1" height="7" fill="#1a8a1a" />
<rect x="225" y="4" width="3" height="1" fill="#1a8a1a" />
<rect x="223" y="10" width="3" height="1" fill="#1a8a1a" />
<rect x="253" y="0" width="1" height="12" fill="#1a8a1a" />
<rect x="251" y="3" width="5" height="7" fill="#1a8a1a" />
<rect x="252" y="4" width="3" height="5" fill="#55dd55" />
</g>
<path d="M275 11 C278 9 279 4 281.5 5 C283.5 6 284.5 8.5 287 9" fill="none" stroke="#1a8a1a" stroke-width="1.3"/>
<path d="M404.5 4.5 L404.5 10.5 L408.5 7.5 Z" fill="#33cc33" stroke="#1a8a1a" stroke-width="0.8"/>
<g shape-rendering="crispEdges">
<rect x="433" y="2" width="1" height="10" fill="#1a6aa0" />
</g>
<path d="M434.5 7.5 L439 7.5 M434.5 7.5 L437 5 M434.5 7.5 L437 10" stroke="#cc3300" stroke-width="1.2" fill="none"/>
<defs><linearGradient id="gBook" x1="0" y1="0" x2="1" y2="1"><stop offset="0" stop-color="#fbe27a"/><stop offset="0.55" stop-color="#e9b520"/><stop offset="1" stop-color="#b87a12"/></linearGradient></defs><path d="M43 9.5 L50.5 16 L58 9.5 L58 8 L50.5 14 Z" fill="#c9962a" stroke="#8f6410" stroke-width="0.7"/><path d="M42.5 8.5 L48.5 1.5 L58 8 L51 14.5 Z" fill="url(#gBook)" stroke="#a87412" stroke-width="0.9"/><path d="M45 8.2 L49.2 3.4" stroke="#fff6c8" stroke-width="1.2" stroke-linecap="round"/>
<rect x="72.5" y="-0.5" width="10.5" height="10" fill="#2a82e6" stroke="#1a5fc0" stroke-width="0.8"/><rect x="76.5" y="1.5" width="6" height="7" fill="#a9d4fb"/><path d="M77 4 L82 4 M77 6 L82 6" stroke="#eaf5ff" stroke-width="0.8"/><path d="M73 15.2 C69.3 15.2 69.3 10.6 72.6 10.4 C72.6 7.6 77 7.2 78 9.4 C79.6 7.4 83.6 8 83.6 10.6 C87 10.2 87.4 15.2 84 15.2 Z" fill="#f2f5fb" stroke="#7f93b8" stroke-width="0.9"/>
<g fill="none" stroke-linecap="round"><circle cx="106" cy="8" r="7" stroke="#b9cbe8" stroke-width="1.2"/><circle cx="106" cy="8" r="4.5" stroke="#7d9ee0" stroke-width="1.4"/><path d="M106.5 8 L106.5 16 A8 8 0 0 0 113.5 9 Z" fill="#9fd89f" stroke="none"/><path d="M106.5 9 L106.5 16" stroke="#22a022" stroke-width="1.4"/><circle cx="106" cy="8" r="1.6" fill="#2a55d0" stroke="none"/></g>
<path d="M126 6 C126 10 130 15 135 15 C139 13 141 9 141 6 Z" fill="#f5d24a" stroke="#d6a820" stroke-width="0.6"/><ellipse cx="133.5" cy="5" rx="8" ry="2.6" fill="#5b9ad8"/><path d="M129.5 4.5 C130 0 137 0 137.5 4.5 Z" fill="#7bb4e6"/><circle cx="138" cy="11.5" r="4" fill="#d42a1a"/><rect x="136.5" y="10" width="3" height="3" fill="#fff"/>
<path d="M315 10 L320.5 15" stroke="#c9a227" stroke-width="3" stroke-linecap="round"/><path d="M315.5 10.5 L320.5 15.5" stroke="#f4e08a" stroke-width="1"/><circle cx="311" cy="6" r="5.6" fill="#dff1fb" stroke="#4a90d9" stroke-width="1.3"/><path d="M308 6 L314 6" stroke="#3b86b0" stroke-width="1.8"/><path d="M311 3 L311 9" stroke="#3b86b0" stroke-width="1.8"/>
<path d="M343 10 L348.5 15" stroke="#c9a227" stroke-width="3" stroke-linecap="round"/><path d="M343.5 10.5 L348.5 15.5" stroke="#f4e08a" stroke-width="1"/><circle cx="339" cy="6" r="5.6" fill="#dff1fb" stroke="#4a90d9" stroke-width="1.3"/><path d="M336 6 L342 6" stroke="#3b86b0" stroke-width="1.8"/>
<g shape-rendering="crispEdges">
<rect x="361" y="0" width="8" height="8" fill="#3a9a22" />
<rect x="362" y="3" width="6" height="4" fill="#eef4ff" />
<rect x="363" y="5" width="4" height="1" fill="#3a9a22" />
<rect x="369" y="0" width="8" height="8" fill="#2a5fd8" />
<rect x="370" y="3" width="6" height="4" fill="#eef4ff" />
<rect x="371" y="5" width="4" height="1" fill="#2a5fd8" />
<rect x="361" y="8" width="8" height="8" fill="#2a5fd8" />
<rect x="362" y="11" width="6" height="4" fill="#eef4ff" />
<rect x="363" y="13" width="4" height="1" fill="#2a5fd8" />
<rect x="369" y="8" width="8" height="8" fill="#3a9a22" />
<rect x="370" y="11" width="6" height="4" fill="#eef4ff" />
<rect x="371" y="13" width="4" height="1" fill="#3a9a22" />
</g>
<path d="M459 1 L466.5 1 L469 3.5 L469 13 L459 13 Z" fill="#fbfbfb" stroke="#9a9a9a" stroke-width="0.9"/><path d="M461.5 3.5 L463 3.5 M461.5 3.5 L461.5 9.5 L463 9.5" stroke="#5a5a5a" stroke-width="0.9" fill="none"/><path d="M466 6.5 L470 6.5 L470 10 L473.5 10 L473.5 14 L470 14 L470 17.5 L466 17.5 L466 14 L462.5 14 L462.5 10 L466 10 Z" fill="#2ecc2e" stroke="#1a8a1a" stroke-width="0.8"/>
<path d="M480 7 L485 7 L482.5 10 Z" fill="#000"/>
<path d="M519 7 L524 7 L521.5 10 Z" fill="#000"/>
<path d="M558 7 L563 7 L560.5 10 Z" fill="#000"/>
<path d="M864 7 L869 7 L866.5 10 Z" fill="#000"/>
<defs><linearGradient id="gClk" x1="0" y1="0" x2="0" y2="1"><stop offset="0" stop-color="#3d8df0"/><stop offset="1" stop-color="#1450c0"/></linearGradient></defs><circle cx="504" cy="8" r="7" fill="#fdfdff" stroke="url(#gClk)" stroke-width="2.3"/><circle cx="504" cy="8" r="4.6" fill="none" stroke="#c8d4e8" stroke-width="0.8" stroke-dasharray="0.8 1.6"/><path d="M504 8.5 L504 4.2 M504 8.5 L506.8 9.3" stroke="#333" stroke-width="1.1"/><rect x="502.5" y="-0.6" width="3" height="1.6" fill="#1f6fe0"/>
<rect x="535.5" y="1.5" width="15" height="13" fill="#fff" stroke="#3d7bd8" stroke-width="1.2"/><rect x="536" y="2" width="14" height="2" fill="#8db7ee"/><path d="M536 9.5 L550 9.5" stroke="#3d7bd8" stroke-width="0.8"/><path d="M537.5 7.5 L540 6.5 L542.5 5.5 L545 6.5 L548.5 5.5" stroke="#b03020" stroke-width="1.1" fill="none"/><path d="M537.5 12.5 L540 11.5 L542 12.5 L545.5 10.5 L548.5 12.5" stroke="#1a8a1a" stroke-width="1.1" fill="none"/>
<path d="M587 1 L587 12.5 L589.8 10 L592 15 L594 14 L591.8 9.2 L595.3 9.2 Z" fill="#444"/>
<g shape-rendering="crispEdges">
<rect x="619" y="1" width="1" height="16" fill="#444" />
<rect x="612" y="8" width="16" height="1" fill="#444" />
<rect x="619" y="8" width="1" height="1" fill="#f0f0f0" />
<rect x="653" y="2" width="1" height="13" fill="#444" />
<rect x="676" y="8" width="13" height="1" fill="#444" />
</g>
<path d="M703.5 14.5 L716.5 2.5" stroke="#444" stroke-width="1.2"/>
<g stroke="#444" stroke-width="1" fill="none"><path d="M730 9.5 L742 1.5 M731.5 13.5 L744 5 M733 11 L736 4.5 M736.5 10.5 L739.5 3 M739.5 8.5 L742.5 0.5"/></g>
<text x="741" y="16.5" font-size="6.5" fill="#333" text-anchor="start" font-weight="bold">E</text>
<g stroke="#555" stroke-width="1" stroke-dasharray="1 1" shape-rendering="crispEdges"><path d="M759 1.5 L773 1.5 M759 4.5 L773 4.5 M759 8.5 L773 8.5 M759 12.5 L768 12.5"/></g>
<text x="769" y="16.5" font-size="6.5" fill="#333" text-anchor="start" font-weight="bold">F</text>
<text x="789.5" y="13" font-size="13" fill="#505050" text-anchor="start" font-weight="bold" textLength="9" lengthAdjust="spacingAndGlyphs">A</text>
<rect x="816.5" y="2.5" width="11" height="12" fill="none" stroke="#555" stroke-width="1" stroke-dasharray="1 1" shape-rendering="crispEdges"/>
<text x="818.5" y="12.5" font-size="11" fill="#505050" text-anchor="start" font-weight="bold" textLength="7" lengthAdjust="spacingAndGlyphs">T</text>
<path d="M846.5 1.5 L849.5 4.5 L846.5 7 L843.5 4.5 Z M853.5 9 L857 12 L853.5 15 L850 12 Z" fill="#505050"/><path d="M846 8.5 L848 11 L852 5.5" stroke="#505050" stroke-width="1.4" fill="none"/>
<text x="890.4" y="12" font-size="9.5" fill="#404040" text-anchor="start" textLength="13" lengthAdjust="spacingAndGlyphs">M1</text>
<text x="918.7" y="12" font-size="9.5" fill="#404040" text-anchor="start" textLength="12.3" lengthAdjust="spacingAndGlyphs">M5</text>
<text x="944.6" y="12" font-size="9.5" fill="#404040" text-anchor="start" textLength="17.8" lengthAdjust="spacingAndGlyphs">M15</text>
<text x="972.3" y="12" font-size="9.5" fill="#404040" text-anchor="start" textLength="18.1" lengthAdjust="spacingAndGlyphs">M30</text>
<text x="1003.6" y="12" font-size="9.5" fill="#404040" text-anchor="start" textLength="11.8" lengthAdjust="spacingAndGlyphs">H1</text>
<text x="1030.8" y="12" font-size="9.5" fill="#404040" text-anchor="start" textLength="12.2" lengthAdjust="spacingAndGlyphs">H4</text>
<text x="1059.6" y="12" font-size="9.5" fill="#404040" text-anchor="start" textLength="11.7" lengthAdjust="spacingAndGlyphs">D1</text>
<text x="1087" y="12" font-size="9.5" fill="#404040" text-anchor="start" textLength="14" lengthAdjust="spacingAndGlyphs">W1</text>
<text x="1113.7" y="12" font-size="9.5" fill="#404040" text-anchor="start" textLength="14.9" lengthAdjust="spacingAndGlyphs">MN</text>
<circle cx="1606.5" cy="6" r="4.3" fill="#f4f8ff" stroke="#2a5fd0" stroke-width="1.4"/><path d="M1603.5 9 L1598.5 13.5" stroke="#2a5fd0" stroke-width="2.4" stroke-linecap="round"/>
<g stroke="#a9adb5" stroke-width="0.9"><path d="M1639 0.5 C1646.5 0.5 1646.5 10 1642.5 10.5 L1643 12.5 L1640 10.8 C1632 11 1632 0.5 1639 0.5 Z" fill="#eceef2"/><path d="M1630 5.5 C1636 5.5 1636.5 13 1632 13.3 L1628.5 13.3 L1627.5 15.5 L1627 13 C1623 12 1624 5.5 1630 5.5 Z" fill="#f4f5f8"/></g>
<text x="-5.5" y="11" font-size="12" fill="#000" text-anchor="start" font-family="&quot;Liberation Sans&quot;, &quot;Noto Sans CJK SC&quot;, sans-serif" textLength="36" lengthAdjust="spacing">新订单</text>
<text x="146.5" y="11" font-size="12" fill="#000" text-anchor="start" font-family="&quot;Liberation Sans&quot;, &quot;Noto Sans CJK SC&quot;, sans-serif" textLength="47.4" lengthAdjust="spacing">自动交易</text>
</svg>
</body></html>
